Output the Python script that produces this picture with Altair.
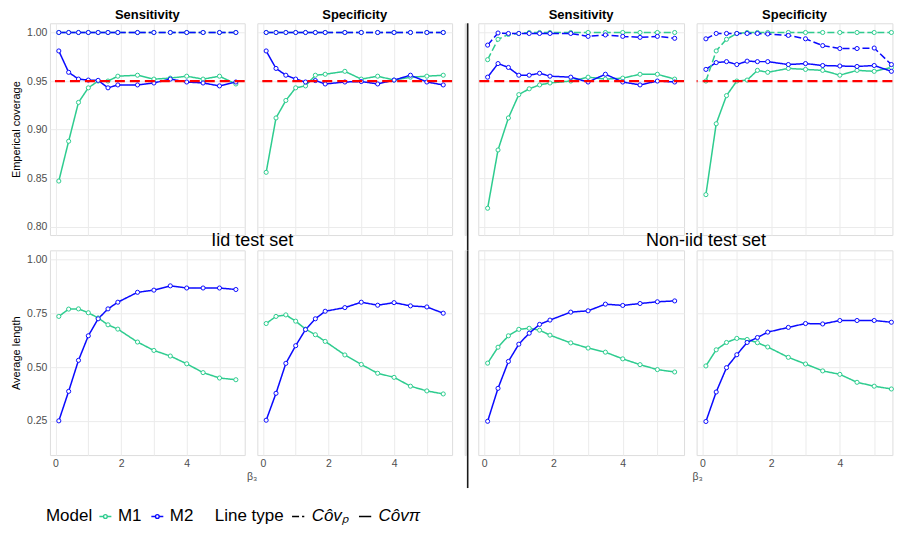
import altair as alt
import pandas as pd

beta = [0.1, 0.4, 0.7, 1.0, 1.3, 1.6, 1.9, 2.5, 3.0, 3.5, 4.0, 4.5, 5.0, 5.5]

# Empirical coverage, Iid test set
cov_iid_sens_M1_pi = [0.847, 0.888, 0.928, 0.943, 0.950, 0.950, 0.955, 0.956, 0.952, 0.953, 0.955, 0.952, 0.955, 0.947]
cov_iid_sens_M2_pi = [0.981, 0.959, 0.952, 0.951, 0.9507, 0.943, 0.946, 0.946, 0.948, 0.952, 0.949, 0.948, 0.945, 0.949]
cov_iid_sens_M1_p = [1.000, 1.000, 1.000, 1.000, 1.000, 1.000, 1.000, 1.000, 1.000, 1.000, 1.000, 1.000, 1.000, 1.000]
cov_iid_sens_M2_p = [1.000, 1.000, 1.000, 1.000, 1.000, 1.000, 1.000, 1.000, 1.000, 1.000, 1.000, 1.000, 1.000, 1.000]
cov_iid_spec_M1_pi = [0.856, 0.912, 0.930, 0.943, 0.945, 0.956, 0.957, 0.960, 0.952, 0.955, 0.951, 0.954, 0.955, 0.956]
cov_iid_spec_M2_pi = [0.981, 0.963, 0.956, 0.952, 0.949, 0.9505, 0.947, 0.949, 0.9495, 0.947, 0.951, 0.956, 0.949, 0.946]
cov_iid_spec_M1_p = [1.000, 1.000, 1.000, 1.000, 1.000, 1.000, 1.000, 1.000, 1.000, 1.000, 1.000, 1.000, 1.000, 1.000]
cov_iid_spec_M2_p = [1.000, 1.000, 1.000, 1.000, 1.000, 1.000, 1.000, 1.000, 1.000, 1.000, 1.000, 1.000, 1.000, 1.000]

# Empirical coverage, Non-iid test set
cov_non_sens_M1_pi = [0.819, 0.879, 0.912, 0.936, 0.942, 0.946, 0.948, 0.950, 0.954, 0.952, 0.953, 0.957, 0.957, 0.952]
cov_non_sens_M2_pi = [0.954, 0.968, 0.964, 0.956, 0.956, 0.958, 0.955, 0.954, 0.949, 0.957, 0.949, 0.946, 0.950, 0.949]
cov_non_sens_M1_p = [0.972, 0.993, 0.998, 0.999, 1.000, 1.000, 1.000, 1.000, 1.000, 1.000, 1.000, 1.000, 1.000, 1.000]
cov_non_sens_M2_p = [0.987, 0.9995, 0.999, 0.999, 0.999, 0.999, 0.999, 0.999, 0.996, 0.9975, 0.996, 0.995, 0.996, 0.994]
cov_non_spec_M1_pi = [0.833, 0.906, 0.935, 0.950, 0.951, 0.961, 0.959, 0.963, 0.962, 0.961, 0.956, 0.961, 0.960, 0.964]
cov_non_spec_M2_pi = [0.962, 0.969, 0.970, 0.967, 0.9705, 0.970, 0.970, 0.967, 0.968, 0.966, 0.9655, 0.965, 0.966, 0.960]
cov_non_spec_M1_p = [0.950, 0.981, 0.993, 0.999, 1.000, 1.000, 1.000, 1.000, 1.000, 1.000, 1.000, 1.000, 1.000, 1.000]
cov_non_spec_M2_p = [0.9935, 0.999, 0.999, 0.999, 0.999, 0.999, 0.9985, 0.997, 0.9935, 0.9865, 0.9835, 0.9835, 0.984, 0.967]

# Average length
len_iid_sens_M1 = [0.735, 0.769, 0.770, 0.752, 0.728, 0.696, 0.676, 0.616, 0.577, 0.551, 0.515, 0.474, 0.449, 0.441]
len_iid_sens_M2 = [0.250, 0.387, 0.531, 0.645, 0.724, 0.770, 0.801, 0.847, 0.857, 0.877, 0.867, 0.867, 0.867, 0.860]
len_iid_spec_M1 = [0.702, 0.735, 0.742, 0.713, 0.676, 0.650, 0.619, 0.556, 0.512, 0.471, 0.452, 0.411, 0.389, 0.375]
len_iid_spec_M2 = [0.253, 0.378, 0.517, 0.599, 0.674, 0.724, 0.759, 0.776, 0.801, 0.787, 0.799, 0.784, 0.779, 0.750]
len_non_sens_M1 = [0.518, 0.592, 0.645, 0.675, 0.680, 0.671, 0.648, 0.612, 0.588, 0.569, 0.538, 0.511, 0.488, 0.477]
len_non_sens_M2 = [0.248, 0.401, 0.526, 0.606, 0.657, 0.698, 0.718, 0.755, 0.761, 0.792, 0.786, 0.795, 0.803, 0.807]
len_non_spec_M1 = [0.505, 0.580, 0.614, 0.633, 0.628, 0.613, 0.593, 0.545, 0.514, 0.482, 0.466, 0.429, 0.411, 0.398]
len_non_spec_M2 = [0.247, 0.384, 0.497, 0.557, 0.614, 0.637, 0.662, 0.684, 0.702, 0.700, 0.716, 0.716, 0.716, 0.708]

models = ["M1", "M2"]
ltypes = ["Co\u0302v\u209a", "Co\u0302v\u03c0"]  # p, pi
P, PI = ltypes

series = [
    ("iid", "sens", "cov", "M1", PI, cov_iid_sens_M1_pi),
    ("iid", "sens", "cov", "M2", PI, cov_iid_sens_M2_pi),
    ("iid", "sens", "cov", "M1", P, cov_iid_sens_M1_p),
    ("iid", "sens", "cov", "M2", P, cov_iid_sens_M2_p),
    ("iid", "spec", "cov", "M1", PI, cov_iid_spec_M1_pi),
    ("iid", "spec", "cov", "M2", PI, cov_iid_spec_M2_pi),
    ("iid", "spec", "cov", "M1", P, cov_iid_spec_M1_p),
    ("iid", "spec", "cov", "M2", P, cov_iid_spec_M2_p),
    ("non", "sens", "cov", "M1", PI, cov_non_sens_M1_pi),
    ("non", "sens", "cov", "M2", PI, cov_non_sens_M2_pi),
    ("non", "sens", "cov", "M1", P, cov_non_sens_M1_p),
    ("non", "sens", "cov", "M2", P, cov_non_sens_M2_p),
    ("non", "spec", "cov", "M1", PI, cov_non_spec_M1_pi),
    ("non", "spec", "cov", "M2", PI, cov_non_spec_M2_pi),
    ("non", "spec", "cov", "M1", P, cov_non_spec_M1_p),
    ("non", "spec", "cov", "M2", P, cov_non_spec_M2_p),
    ("iid", "sens", "len", "M1", PI, len_iid_sens_M1),
    ("iid", "sens", "len", "M2", PI, len_iid_sens_M2),
    ("iid", "spec", "len", "M1", PI, len_iid_spec_M1),
    ("iid", "spec", "len", "M2", PI, len_iid_spec_M2),
    ("non", "sens", "len", "M1", PI, len_non_sens_M1),
    ("non", "sens", "len", "M2", PI, len_non_sens_M2),
    ("non", "spec", "len", "M1", PI, len_non_spec_M1),
    ("non", "spec", "len", "M2", PI, len_non_spec_M2),
]

rows = []
for setting, metric, row, model, lt, vals in series:
    for b, v in zip(beta, vals):
        rows.append(dict(setting=setting, metric=metric, row=row, model=model,
                         ltype=lt, beta=b, value=v, key=model + lt))
df = pd.DataFrame(rows)

GREEN = "#2ECC8F"
BLUE = "#0A0AFF"
FONT = "Liberation Sans"

color_scale = alt.Scale(domain=models, range=[GREEN, BLUE])
dash_scale = alt.Scale(domain=ltypes, range=[[7, 3], [1, 0]])

legend_symbol = "M-1.6,0H-0.5M0.5,0H1.6M0.5,0A0.5,0.5 0 1,1 -0.5,0A0.5,0.5 0 1,1 0.5,0"

LEG_Y = 485
color_legend = alt.Legend(title="Model", orient="none", legendX=-4, legendY=LEG_Y,
                          direction="horizontal", titleOrient="left",
                          symbolType=legend_symbol, symbolSize=56,
                          symbolStrokeWidth=1.4, symbolFillColor="white",
                          titleFontSize=17, labelFontSize=17, titleFontWeight="normal",
                          titleColor="black", labelColor="black",
                          titleFont=FONT, labelFont=FONT, labelOffset=4,
                          columnPadding=6, titlePadding=4)
dash_legend = alt.Legend(title="Line type", orient="none", legendX=165, legendY=LEG_Y,
                         direction="horizontal", titleOrient="left",
                         symbolType="stroke", symbolSize=150, symbolStrokeColor="black",
                         symbolStrokeWidth=1.6,
                         titleFontSize=17, labelFontSize=17, titleFontWeight="normal",
                         titleColor="black", labelColor="black", labelFontStyle="italic",
                         titleFont=FONT, labelFont=FONT, labelOffset=5,
                         columnPadding=6, titlePadding=6)

COV_DOM = [0.7914, 1.0095]
LEN_DOM = [0.091, 1.042]
TOP_H = 212
BOT_H = 205
GAP_V = 15.3
GAP_H = 12.6


def panel(setting, metric, row, first_col, width, xdom, title=None, title_dx=0,
          title_size=13, title_weight="bold", title_offset=-9,
          xtitle=None, xtitle_x=None):
    d = df[(df.setting == setting) & (df.metric == metric) & (df.row == row)]
    base = alt.Chart(d)
    is_top = row == "cov"
    ydom = COV_DOM if is_top else LEN_DOM
    yvals = [0.80, 0.85, 0.90, 0.95, 1.00] if is_top else [0.25, 0.50, 0.75, 1.00]
    ytitle = ("Emperical coverage" if is_top else "Average length") if first_col else None

    xaxis_kw = dict(values=[0, 1, 2, 3, 4, 5], ticks=False, domain=False,
                    grid=True, gridColor="#EBEBEB", gridWidth=1,
                    labels=not is_top,
                    labelExpr="datum.value % 2 == 0 ? datum.label : ''",
                    format="d", labelFontSize=10.5, labelColor="#4D4D4D",
                    labelPadding=3, labelFont=FONT)
    if xtitle:
        xaxis_kw.update(title=xtitle, titleX=xtitle_x, titleFontSize=10.5,
                        titleFontWeight="normal", titleColor="#4D4D4D",
                        titlePadding=3, titleFont=FONT)
    else:
        xaxis_kw.update(title=None)
    xaxis = alt.Axis(**xaxis_kw)

    yaxis_kw = dict(values=yvals, ticks=False, domain=False, grid=True,
                    gridColor="#EBEBEB", gridWidth=1, labels=first_col,
                    format=".2f", labelFontSize=10.5, labelColor="#4D4D4D",
                    labelPadding=3, labelFont=FONT)
    if ytitle:
        yaxis_kw.update(title=ytitle, titleFontSize=11, titleFontWeight="normal",
                        titleColor="black", titlePadding=5, titleFont=FONT)
    else:
        yaxis_kw.update(title=None)
    yaxis = alt.Axis(**yaxis_kw)

    x = alt.X("beta:Q", scale=alt.Scale(domain=xdom, nice=False, zero=False), axis=xaxis)
    y = alt.Y("value:Q", scale=alt.Scale(domain=ydom, nice=False, zero=False), axis=yaxis)

    line = base.mark_line(strokeWidth=1.5).encode(
        x=x, y=y,
        color=alt.Color("model:N", scale=color_scale, legend=color_legend),
        strokeDash=alt.StrokeDash("ltype:N", scale=dash_scale, legend=dash_legend),
        detail="key:N",
        order="beta:Q",
    )
    pts = base.mark_point(shape="circle", filled=False, fill="white", fillOpacity=1,
                          opacity=1, size=17, strokeWidth=1).encode(
        x=x, y=y,
        color=alt.Color("model:N", scale=color_scale, legend=color_legend),
    )
    layers = [line, pts]
    if is_top:
        layers.append(
            alt.Chart(pd.DataFrame({"value": [0.95]})).mark_rule(
                color="#FF0000", strokeDash=[10, 5], strokeWidth=2.2).encode(y="value:Q")
        )
    ch = alt.layer(*layers).properties(width=width, height=TOP_H if is_top else BOT_H)
    if title:
        ch = ch.properties(title=alt.TitleParams(title, fontSize=title_size,
                                                 fontWeight=title_weight,
                                                 offset=title_offset, anchor="middle",
                                                 baseline="alphabetic", dx=title_dx,
                                                 color="black", font=FONT))
    return ch


def divider(height, y2):
    # the vertical black line separating the Iid and Non-iid halves
    return alt.Chart(pd.DataFrame({"d": [0]})).mark_rule(
        color="#1a1a1a", strokeWidth=1.6).encode(
        x=alt.value(3.0), y=alt.value(0), y2=alt.value(y2)
    ).properties(width=1, height=height)


XD = [-0.17, 5.77]
XD3 = [-0.17, 5.77]
XD4 = [-0.17, 5.53]

t1 = panel("iid", "sens", "cov", True, 195, XD, title="Sensitivity")
t2 = panel("iid", "spec", "cov", False, 195, XD, title="Specificity")
t3 = panel("non", "sens", "cov", False, 206, XD3, title="Sensitivity")
t4 = panel("non", "spec", "cov", False, 196, XD4, title="Specificity")

b1 = panel("iid", "sens", "len", True, 195, XD, title="Iid test set", title_dx=105,
           title_size=18, title_weight="normal", title_offset=-14,
           xtitle="\u03b2\u2083", xtitle_x=202)
b2 = panel("iid", "spec", "len", False, 195, XD)
b3 = panel("non", "sens", "len", False, 206, XD3, title="Non-iid test set", title_dx=125,
           title_size=18, title_weight="normal", title_offset=-14,
           xtitle="\u03b2\u2083", xtitle_x=219)
b4 = panel("non", "spec", "len", False, 196, XD4)

chart = alt.concat(
    t1, t2, divider(TOP_H, TOP_H + GAP_V), t3, t4,
    b1, b2, divider(BOT_H, 238), b3, b4,
    columns=5, bounds="flush",
    spacing={"row": GAP_V, "column": GAP_H},
).properties(
    padding={"left": 2, "top": 0, "right": 0, "bottom": 0}
).configure_view(stroke=None).configure(font=FONT)

chart.save("out.html", embed_options={"renderer": "svg", "actions": False})
